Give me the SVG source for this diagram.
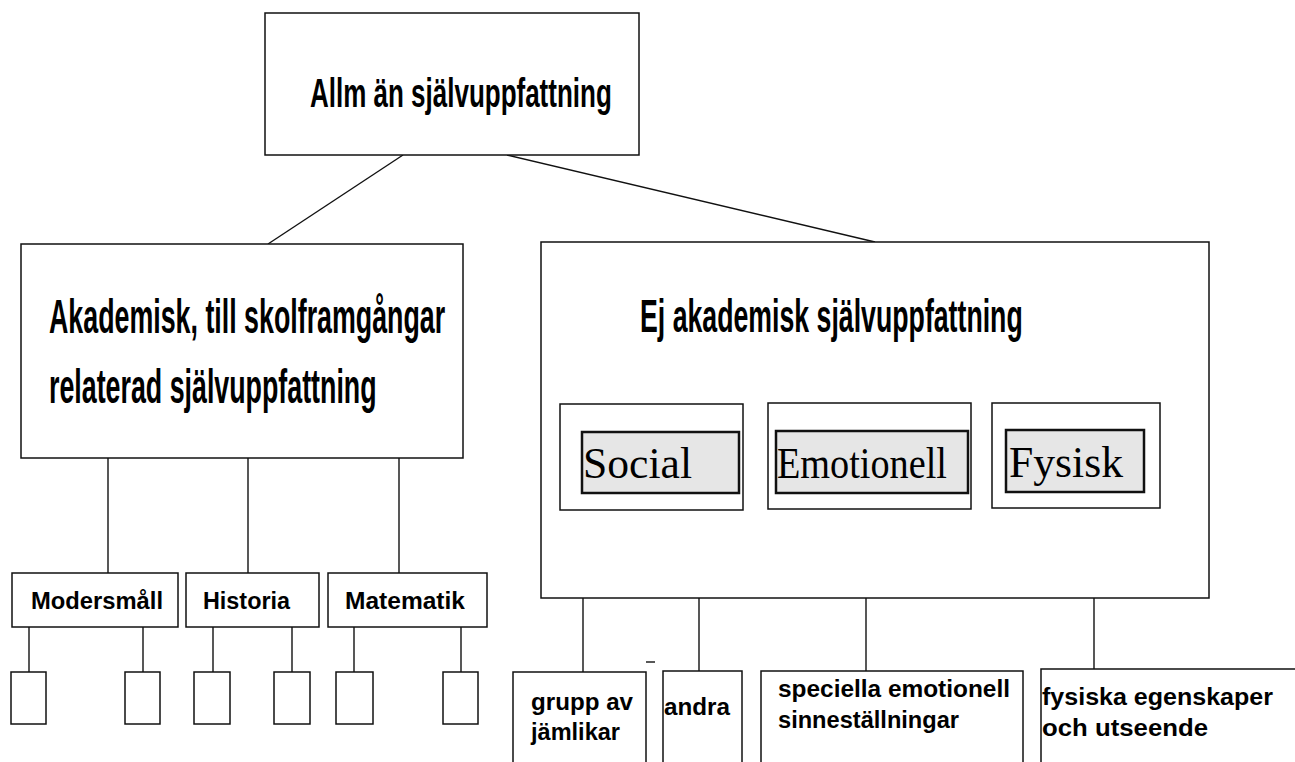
<svg xmlns="http://www.w3.org/2000/svg" width="1295" height="762" viewBox="0 0 1295 762">
<style>
.box{fill:#fff;stroke:#111;stroke-width:1.5}
.inner{fill:#e6e6e6;stroke:#111;stroke-width:2.5}
.ln{stroke:#111;stroke-width:1.4;fill:none}
.big{font-family:"Liberation Sans",Arial,sans-serif;font-weight:bold;fill:#000}
.serif{font-family:"Liberation Serif","Times New Roman",serif;fill:#000}
.sm{font-family:"Liberation Sans",Arial,sans-serif;font-size:23px;font-weight:bold;fill:#000}
</style>
<rect width="1295" height="762" fill="#fff"/>
<g id="connectors">
<line class="ln" x1="403" y1="155" x2="268" y2="244"/>
<line class="ln" x1="507" y1="155" x2="875" y2="242"/>
<line class="ln" x1="108" y1="458" x2="108" y2="573"/>
<line class="ln" x1="248" y1="458" x2="248" y2="573"/>
<line class="ln" x1="399" y1="458" x2="399" y2="573"/>
<line class="ln" x1="29" y1="627" x2="29" y2="672"/>
<line class="ln" x1="143" y1="627" x2="143" y2="672"/>
<line class="ln" x1="213" y1="627" x2="213" y2="672"/>
<line class="ln" x1="292" y1="627" x2="292" y2="672"/>
<line class="ln" x1="354" y1="627" x2="354" y2="672"/>
<line class="ln" x1="461" y1="627" x2="461" y2="672"/>
<line class="ln" x1="583" y1="510" x2="583" y2="672"/>
<line class="ln" x1="699" y1="510" x2="699" y2="671"/>
<line class="ln" x1="866" y1="509" x2="866" y2="671"/>
<line class="ln" x1="1094" y1="508" x2="1094" y2="669"/>
</g>
<g id="node-allman">
<rect class="box" x="265" y="13" width="374" height="142"/>
<text class="big" transform="translate(310 107) scale(0.65 1)" x="0" y="0" font-size="40">Allm än självuppfattning</text>
</g>
<g id="node-akademisk">
<rect class="box" x="21" y="244" width="442" height="214"/>
<text class="big" transform="translate(49 333) scale(0.547 1)" x="0" y="0" font-size="49">Akademisk, till skolframgångar</text>
<text class="big" transform="translate(49 403) scale(0.547 1)" x="0" y="0" font-size="49">relaterad självuppfattning</text>
</g>
<g id="node-ej-akademisk">
<rect class="box" x="541" y="242" width="668" height="356"/>
<text class="big" transform="translate(640 332) scale(0.568 1)" x="0" y="0" font-size="47">Ej akademisk självuppfattning</text>
</g>
<g id="node-social">
<rect class="box" x="560" y="404" width="183" height="106"/>
<rect class="inner" x="582" y="432" width="157" height="61"/>
<text class="serif" x="583" y="478" font-size="45" textLength="109" lengthAdjust="spacingAndGlyphs">Social</text>
</g>
<g id="node-emotionell">
<rect class="box" x="768" y="403" width="203" height="106"/>
<rect class="inner" x="776" y="431" width="192" height="62"/>
<text class="serif" transform="translate(777 478) scale(0.85 1)" x="0" y="0" font-size="45">Emotionell</text>
</g>
<g id="node-fysisk">
<rect class="box" x="992" y="403" width="168" height="105"/>
<rect class="inner" x="1006" y="430" width="138" height="62"/>
<text class="serif" x="1009" y="477" font-size="45" textLength="114" lengthAdjust="spacingAndGlyphs">Fysisk</text>
</g>
<g id="node-modersmall">
<rect class="box" x="12" y="573" width="166" height="54"/>
<text class="sm" x="31" y="609" textLength="132" lengthAdjust="spacingAndGlyphs">Modersmåll</text>
</g>
<g id="node-historia">
<rect class="box" x="186" y="573" width="133" height="54"/>
<text class="sm" x="203" y="609" textLength="87" lengthAdjust="spacingAndGlyphs">Historia</text>
</g>
<g id="node-matematik">
<rect class="box" x="328" y="573" width="159" height="54"/>
<text class="sm" x="345" y="609" textLength="120" lengthAdjust="spacingAndGlyphs">Matematik</text>
</g>
<g id="leaf-1"><rect class="box" x="11" y="672" width="35" height="52"/></g>
<g id="leaf-2"><rect class="box" x="125" y="672" width="35" height="52"/></g>
<g id="leaf-3"><rect class="box" x="194" y="672" width="36" height="52"/></g>
<g id="leaf-4"><rect class="box" x="274" y="672" width="36" height="52"/></g>
<g id="leaf-5"><rect class="box" x="336" y="672" width="37" height="52"/></g>
<g id="leaf-6"><rect class="box" x="443" y="672" width="35" height="52"/></g>
<g id="node-grupp">
<rect class="box" x="513" y="672" width="133" height="100"/>
<text class="sm" x="531" y="710" textLength="102" lengthAdjust="spacingAndGlyphs">grupp av</text>
<text class="sm" x="531" y="740" textLength="89" lengthAdjust="spacingAndGlyphs">jämlikar</text>
</g>
<line class="ln" x1="646" y1="662" x2="655" y2="662" stroke-width="2"/>
<g id="node-andra">
<rect class="box" x="663" y="671" width="79" height="101"/>
<text class="sm" x="664" y="715" textLength="66" lengthAdjust="spacingAndGlyphs">andra</text>
</g>
<g id="node-speciella">
<rect class="box" x="761" y="671" width="262" height="101"/>
<text class="sm" x="778" y="697" textLength="232" lengthAdjust="spacingAndGlyphs">speciella emotionell</text>
<text class="sm" x="778" y="728" textLength="181" lengthAdjust="spacingAndGlyphs">sinneställningar</text>
</g>
<g id="node-fysiska">
<rect class="box" x="1041" y="669" width="270" height="103"/>
<text class="sm" x="1042" y="705" textLength="231" lengthAdjust="spacingAndGlyphs">fysiska egenskaper</text>
<text class="sm" x="1042" y="736" textLength="166" lengthAdjust="spacingAndGlyphs">och utseende</text>
</g>
</svg>
